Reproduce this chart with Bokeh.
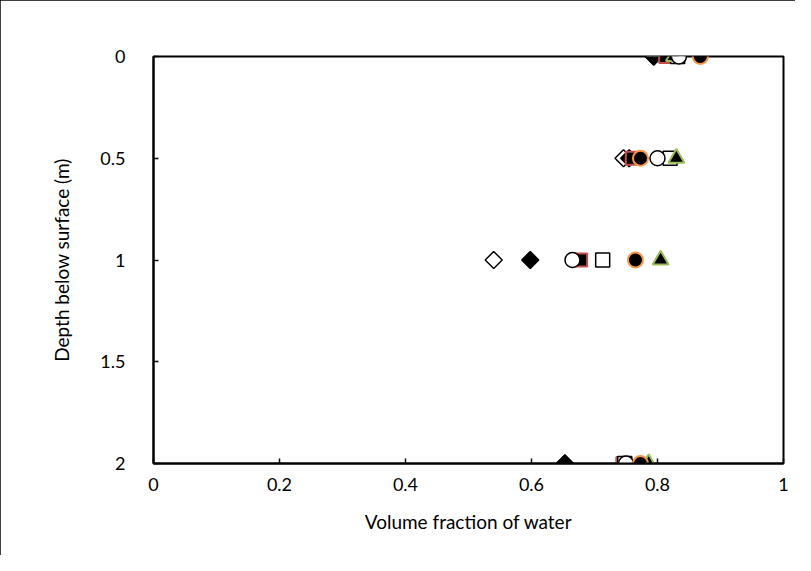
from bokeh.plotting import figure
from bokeh.models import Range1d, FixedTicker
from bokeh.embed import file_html
from bokeh.resources import INLINE
import math

depths = [0, 0.5, 1, 2]

# Volume fraction of water for each series at the depths above
open_diamond = [0.794, 0.746, 0.540, 0.653]
filled_diamond = [0.794, 0.755, 0.598, 0.653]
red_square = [0.813, 0.760, 0.678, 0.745]
open_square = [0.832, 0.820, 0.713, 0.748]
green_triangle = [0.826, 0.830, 0.805, 0.786]
open_circle = [0.834, 0.800, 0.665, 0.750]
orange_circle = [0.868, 0.773, 0.765, 0.773]

x_ticks = [0, 0.2, 0.4, 0.6, 0.8, 1]
x_tick_labels = ["0", "0.2", "0.4", "0.6", "0.8", "1"]
y_ticks = [0, 0.5, 1, 1.5, 2]
y_tick_labels = ["0", "0.5", "1", "1.5", "2"]

FONT = "Lato"

p = figure(width=795, height=555, output_backend="svg", toolbar_location=None,
           x_range=Range1d(0, 1), y_range=Range1d(2, 0),
           min_border_left=153, min_border_right=12, min_border_top=56, min_border_bottom=92,
           styles={"outline": "1px solid black", "outline-offset": "-1px"})

p.xgrid.visible = False
p.ygrid.visible = False
p.outline_line_color = "black"
p.outline_line_width = 2
p.background_fill_color = "white"
p.border_fill_color = "white"

for ax, ticks, labels in [(p.xaxis[0], x_ticks, x_tick_labels), (p.yaxis[0], y_ticks, y_tick_labels)]:
    ax.ticker = FixedTicker(ticks=ticks)
    ax.major_label_overrides = {t: l for t, l in zip(ticks, labels)}
    ax.axis_line_color = "black"
    ax.axis_line_width = 2
    ax.major_tick_in = 5
    ax.major_tick_out = 0
    ax.major_tick_line_width = 1.5
    ax.minor_tick_line_color = None
    ax.major_label_text_font = FONT
    ax.major_label_text_font_size = "18px"
    ax.major_label_text_color = "black"
    ax.axis_label_text_font = FONT
    ax.axis_label_text_font_size = "19px"
    ax.axis_label_text_font_style = "normal"
    ax.axis_label_text_color = "black"

p.xaxis.axis_label = "Volume fraction of water"
p.yaxis.axis_label = "Depth below surface (m)"
p.xaxis.major_label_standoff = 14
p.yaxis.major_label_standoff = 28
p.xaxis.axis_label_standoff = 16
p.yaxis.axis_label_standoff = 24

p.scatter(open_diamond, depths, marker="square", angle=math.pi / 4, size=12,
          fill_color="white", line_color="black", line_width=1.5)
p.scatter(filled_diamond, depths, marker="square", angle=math.pi / 4, size=12,
          fill_color="black", line_color="black", line_width=1.5)
p.scatter(red_square, depths, marker="square", size=13,
          fill_color="black", line_color="#C0504D", line_width=2)
p.scatter(open_square, depths, marker="square", size=14,
          fill_color="white", line_color="black", line_width=1.5)
p.scatter(green_triangle, depths, marker="triangle", size=16,
          fill_color="black", line_color="#9BBB59", line_width=2)
p.scatter(open_circle, depths, marker="circle", size=15,
          fill_color="white", line_color="black", line_width=1.5)
p.scatter(orange_circle, depths, marker="circle", size=15,
          fill_color="black", line_color="#F79646", line_width=2)

open("out.html", "w").write(file_html(p, INLINE))
